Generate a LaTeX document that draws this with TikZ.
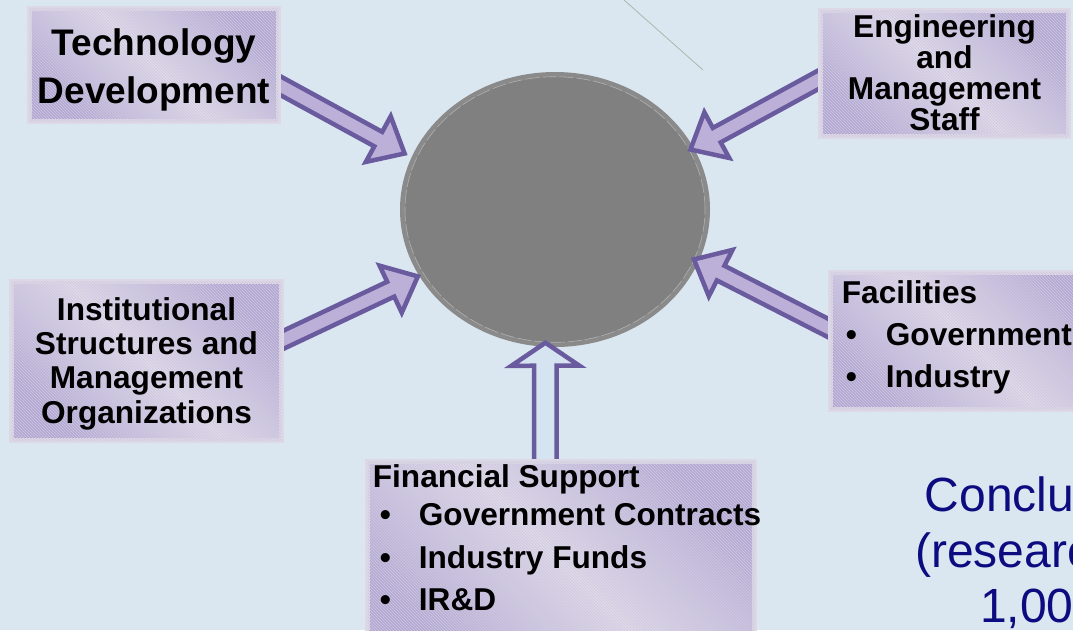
\documentclass[tikz,border=0pt]{standalone}
\usepackage{fontspec}
\setmainfont{Liberation Sans}
\usetikzlibrary{shapes.geometric,calc,patterns,backgrounds}

\definecolor{bgblue}{RGB}{218,231,241}
\definecolor{boxframe}{RGB}{221,216,230}
\definecolor{boxlight}{RGB}{224,219,233}
\definecolor{boxdark}{RGB}{178,168,210}
\definecolor{boxstripe}{RGB}{206,199,224}
\definecolor{arrowline}{RGB}{106,90,158}
\definecolor{arrowfill}{RGB}{188,176,217}
\definecolor{hollowfill}{RGB}{214,228,241}
\definecolor{hubgray}{RGB}{128,128,128}
\definecolor{hubrim}{RGB}{138,138,138}
\definecolor{hubdash}{RGB}{176,176,176}
\definecolor{linegray}{RGB}{170,184,172}
\definecolor{navytext}{RGB}{12,12,128}

% block arrow: [style]{tail}{tip}{half shaft}{half head}{head length}
\newcommand{\blockarrow}[6][fatarrow]{%
  \coordinate (arrowbase) at ($(#3)!#6!(#2)$);
  \draw[#1] ($(#2)!#4!90:(#3)$) -- ($(arrowbase)!#4!90:(#3)$) -- ($(arrowbase)!#5!90:(#3)$)
    -- (#3) -- ($(arrowbase)!#5!-90:(#3)$) -- ($(arrowbase)!#4!-90:(#3)$) -- ($(#2)!#4!-90:(#3)$) -- cycle;
}
% bullet line: indent of the dot, indent of the words, words
\newcommand{\bulitem}[3]{\makebox[#2][l]{\hspace*{#1}\textbullet}#3}

\begin{document}
\begin{tikzpicture}[x=1pt, y=-1pt,
    box/.style={draw=boxframe, line width=5pt, inner sep=0pt,
      top color=boxdark, bottom color=boxdark, middle color=boxlight, shading angle=-45,
      postaction={pattern=north west lines, pattern color=boxstripe}},
    boxtext/.style={inner sep=0pt, align=center},
    listtext/.style={inner sep=0pt, align=left, font=\bfseries\fontsize{31.6}{42}\selectfont},
    hub/.style={ellipse, fill=hubgray, draw=hubrim, line width=5pt, inner sep=0pt,
      minimum width=305pt, minimum height=270pt},
    fatarrow/.style={draw=arrowline, fill=arrowfill, line width=4.5pt},
    hollowarrow/.style={fatarrow, fill=hollowfill}]
    \clip (0,0) rectangle (1073,630);
    \useasboundingbox (0,0) rectangle (1073,630);

    % Draw the boxes round the hub
    \node[box, minimum width=249pt, minimum height=113pt] (tech) at (154,65) {};
    \node[box, minimum width=248pt, minimum height=126pt] (eng) at (944.5,73.5) {};
    \node[box, minimum width=270pt, minimum height=159pt] (inst) at (146.5,361) {};
    \node[box, minimum width=279.5pt, minimum height=137pt] (fac) at (970.25,341) {};
    \node[box, minimum width=387pt, minimum height=198.5pt] (fin) at (561,560.75) {};

    % Box texts
    \node[boxtext, font=\bfseries\fontsize{37}{48}\selectfont, anchor=north] (techtext) at (154,28.4) {Technology\\Development};
    \node[boxtext, font=\bfseries\fontsize{31.6}{31}\selectfont, anchor=north] (engtext) at (944.5,14.2) {Engineering\\and\\Management\\Staff};
    \node[boxtext, font=\bfseries\fontsize{31.6}{34.3}\selectfont, anchor=north] (insttext) at (146.5,297.2) {Institutional\\Structures and\\Management\\Organizations};
    \node[listtext, anchor=north west] (factext) at (841.7,280.2) {Facilities\\\bulitem{4pt}{44pt}{Government}\\\bulitem{4pt}{44pt}{Industry}};
    \node[listtext, font=\bfseries\fontsize{31.6}{42.5}\selectfont, anchor=north west] (fintext) at (372.7,464.2)
      {Financial Support\\[-4pt]\bulitem{7pt}{46pt}{Government Contracts}\\\bulitem{7pt}{46pt}{Industry Funds}\\\bulitem{7pt}{46pt}{IR\&D}};

    % Side note
    \node[anchor=north west, inner sep=0pt, align=left, text=navytext, font=\fontsize{48}{55.5}\selectfont] (note) at (915,477)
      {\hspace*{9.6pt}Conclu\\(researc\\\hspace*{64.8pt}1,00};

    \begin{scope}[on background layer]
    \fill[bgblue] (0,0) rectangle (1073,630);

    % Draw the hub
    \node[hub] (hub) at (555,209.5) {};
    \draw[hubdash, line width=0.6pt, dash pattern=on 14pt off 3pt] (hub.center) ellipse [x radius=150pt, y radius=132.8pt];
    \draw[linegray, line width=0.8pt] (624,0) -- (703,70);

    % Arrow ends
    \coordinate (techtail) at ([shift={(-11,15)}]tech.east);
    \coordinate (engtail) at ([shift={(10,1)}]eng.west);
    \coordinate (insttail) at ([shift={(-10,-16.8)}]inst.east);
    \coordinate (factail) at ([shift={(10,-8)}]fac.west);
    \coordinate (fintail) at ([shift={(-15.5,11)}]fin.north);
    \coordinate (techtip) at ($(hub.160)!8pt!(techtail)$);
    \coordinate (engtip) at ($(hub.24)!-3.5pt!(engtail)$);
    \coordinate (insttip) at ($(hub.206)!1.5pt!(insttail)$);
    \coordinate (factip) at ($(hub.340)!-5pt!(factail)$);
    \coordinate (fintip) at ($(hub.266)!-4pt!(fintail)$);

    % Draw the arrows into the hub
    \blockarrow{techtail}{techtip}{8.25pt}{26pt}{30pt}
    \blockarrow{engtail}{engtip}{8.25pt}{26pt}{30pt}
    \blockarrow{insttail}{insttip}{8.25pt}{26pt}{30pt}
    \blockarrow{factail}{factip}{8.25pt}{26pt}{30pt}
    \blockarrow[hollowarrow]{fintail}{fintip}{11.25pt}{34pt}{23pt}
    \end{scope}
\end{tikzpicture}
\end{document}
